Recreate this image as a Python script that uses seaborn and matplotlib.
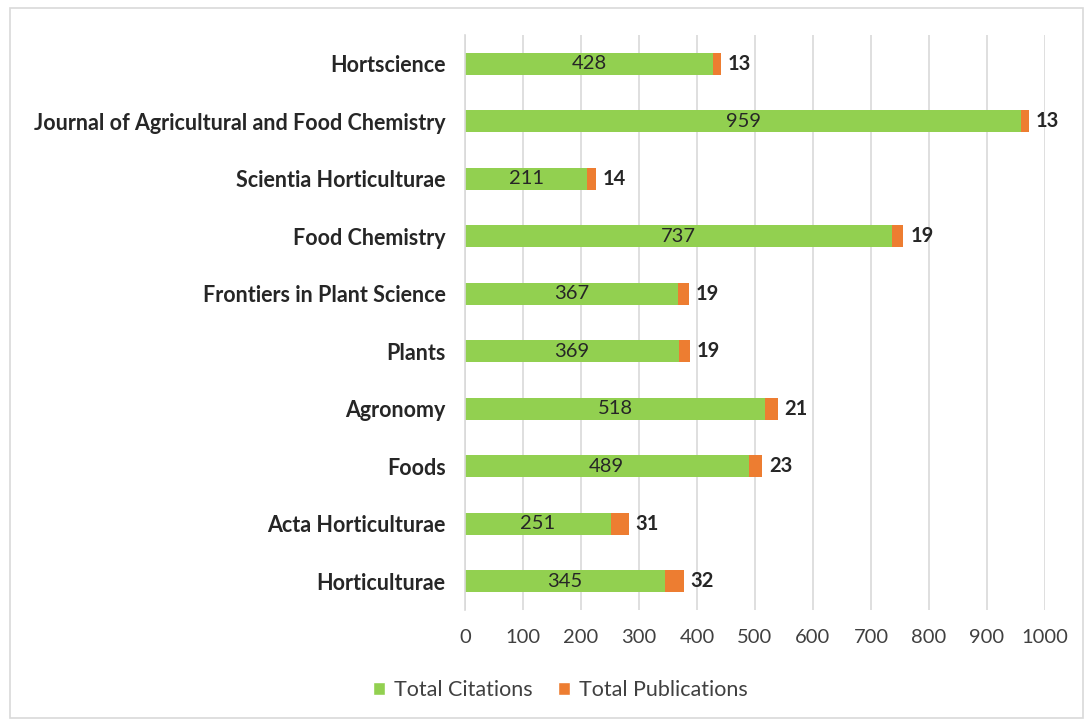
import matplotlib
matplotlib.use("Agg")
import matplotlib.pyplot as plt
import seaborn as sns
import pandas as pd
from matplotlib.patches import Rectangle, Patch

journals = ["Hortscience", "Journal of Agricultural and Food Chemistry", "Scientia Horticulturae",
            "Food Chemistry", "Frontiers in Plant Science", "Plants", "Agronomy", "Foods",
            "Acta Horticulturae", "Horticulturae"]
citations = [428, 959, 211, 737, 367, 369, 518, 489, 251, 345]
publications = [13, 13, 14, 19, 19, 19, 21, 23, 31, 32]

df = pd.DataFrame({"journal": journals, "cit": citations, "pub": publications})
df["total"] = df["cit"] + df["pub"]

sns.set_theme(style="white")
plt.rcParams["font.family"] = ["Lato", "DejaVu Sans"]

GREEN = "#92D050"
ORANGE = "#ED7D31"

fig = plt.figure(figsize=(10.86, 7.22), dpi=100)
ax = fig.add_axes([465/1086, 1-610/722, (1045-465)/1086, (610-35)/722])

sns.barplot(data=df, y="journal", x="total", color=ORANGE, orient="h", width=0.39,
            ax=ax, saturation=1, edgecolor="none")
sns.barplot(data=df, y="journal", x="cit", color=GREEN, orient="h", width=0.39,
            ax=ax, saturation=1, edgecolor="none")

ax.bar_label(ax.containers[1], labels=[str(v) for v in citations], label_type="center",
             fontsize=14.5, color="#262626")
ax.bar_label(ax.containers[0], labels=[str(v) for v in publications], padding=5,
             fontsize=14.5, color="#262626", fontweight="bold")

ax.set_xlim(0, 1000)
ax.set_ylim(9.5, -0.5)
ax.set_xticks(range(0, 1001, 100))
ax.xaxis.grid(True, color="#D9D9D9", linewidth=1.2)
ax.set_axisbelow(True)
for s in ["top", "right", "bottom"]:
    ax.spines[s].set_visible(False)
ax.spines["left"].set_color("#D9D9D9")
ax.spines["left"].set_linewidth(1.2)
ax.set_xlabel("")
ax.set_ylabel("")
ax.tick_params(axis="x", length=0, pad=14, labelsize=14.5, labelcolor="#404040")
ax.tick_params(axis="y", length=0, pad=14, labelsize=15.5, labelcolor="#262626")
for t in ax.get_yticklabels():
    t.set_fontweight("bold")

handles = [Patch(facecolor=GREEN, label="Total Citations"),
           Patch(facecolor=ORANGE, label="Total Publications")]
fig.legend(handles=handles, loc="center", bbox_to_anchor=(0.516, 0.044), ncol=2,
           frameon=False, fontsize=15.5, handlelength=0.55, handleheight=0.55,
           columnspacing=1.2, handletextpad=0.4, labelcolor="#404040")

fig.patches.append(Rectangle((10/1086, 1-718/722), 1073/1086, 710/722, transform=fig.transFigure,
                             fill=False, edgecolor="#D9D9D9", linewidth=1.2))

fig.savefig("out.png", dpi=100)
